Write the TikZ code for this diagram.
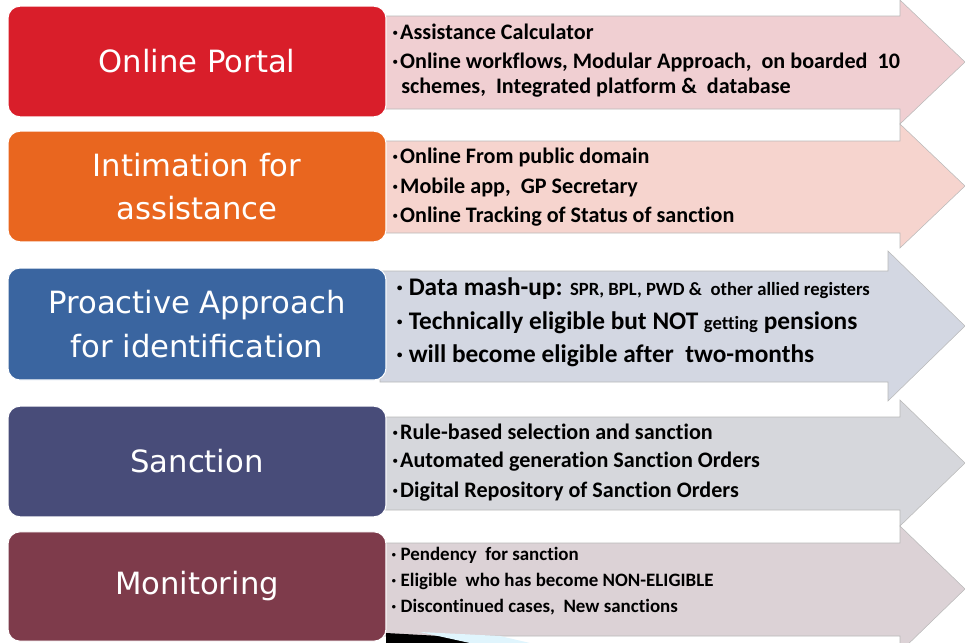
\documentclass[tikz,border=0pt]{standalone}
\usepackage{fontspec}
\setmainfont{Carlito}[Ligatures=NoCommon]
\newfontfamily\boxfont{DejaVu Sans}
\usepackage{tikz}
\usetikzlibrary{calc}

\definecolor{portalred}{HTML}{D91E2A}
\definecolor{intimorange}{HTML}{E9661F}
\definecolor{proactblue}{HTML}{3A65A0}
\definecolor{sanctblue}{HTML}{484C79}
\definecolor{monitmaroon}{HTML}{7E3B4B}
\definecolor{bandpink}{HTML}{F0CFD2}
\definecolor{bandsalmon}{HTML}{F6D4CE}
\definecolor{bandblue}{HTML}{D3D7E2}
\definecolor{bandgrey}{HTML}{D6D7DC}
\definecolor{bandmauve}{HTML}{DCD2D6}

\tikzset{
  stepbox/.style={rounded corners=9pt, draw=white, line width=0.8pt,
    minimum width=283.5pt, minimum height=83pt, align=center,
    text=white, font=\boxfont\fontsize{23}{32.5}\selectfont},
  band/.style={draw=gray!55, line width=0.4pt},
  item/.style={anchor=west, inner sep=0pt, font=\bfseries\fontsize{16.6}{18}\selectfont},
  bigitem/.style={anchor=west, inner sep=0pt, font=\bfseries\fontsize{19}{22}\selectfont},
  smallitem/.style={anchor=west, inner sep=0pt, font=\bfseries\fontsize{14.2}{16}\selectfont}
}

\begin{document}
\begin{tikzpicture}[x=0.75pt,y=-0.75pt]
    \useasboundingbox (0,0) rectangle (965,643);
    \foreach \t/\b/\ht/\hb/\hx/\ty/\c in
        {16/109/0/124/900/62/bandpink, 141/233/124/248/900/186/bandsalmon,
         271/382/251/401/888/326/bandblue, 417/510/400/526/900/463/bandgrey,
         543/636/526/652/900/589/bandmauve}
    \draw[band, fill=\c] (380,\t) -- (\hx,\t) -- (\hx,\ht) -- (965,\ty)
        -- (\hx,\hb) -- (\hx,\b) -- (380,\b) -- cycle;
    \fill[black] (386,643) -- (386,633) -- (440,636) -- (472,643) -- cycle;
    \fill[cyan!12] (420,632) -- (500,636) -- (530,643) -- (470,643) -- cycle;
    \foreach \n/\y/\h/\c/\t in
        {portal/61.5/83/portalred/Online Portal,
         intimation/186.5/83/intimorange/{Intimation for\\assistance},
         proactive/324/84/proactblue/{Proactive Approach\\for identification},
         sanction/461.5/83/sanctblue/Sanction,
         monitoring/586.5/82/monitmaroon/Monitoring}
    \node[stepbox, fill=\c, minimum height=\h pt] (\n) at (197,\y) {\t};
    \foreach \n/\y/\t in
        {1/32/Assistance Calculator,
         2/62/{Online workflows, Modular Approach,\ \ on boarded\ \ 10}}
    \node[item] (portalitem\n) at (392,\y) {·\hspace{1.5pt}\t};
    \node[item] (portalitem3) at (401,88) {schemes,\ \ Integrated platform \&\ \ database};
    \foreach \n/\y/\t in
        {1/157/Online From public domain,
         2/187/{Mobile app,\ \ GP Secretary},
         3/217/Online Tracking of Status of sanction}
    \node[item] (intimitem\n) at (392,\y) {·\hspace{1.5pt}\t};
    \node[bigitem] (proactitem1) at (396,289)
        {· Data mash-up: {\fontsize{14}{16}\selectfont SPR, BPL, PWD \&\ \ other allied registers}};
    \node[bigitem] (proactitem2) at (396,323)
        {· Technically eligible but NOT {\fontsize{14}{16}\selectfont getting} pensions};
    \node[bigitem] (proactitem3) at (396,356) {· will become eligible after\ \ two-months};
    \foreach \n/\y/\t in
        {1/432/Rule-based selection and sanction,
         2/462/Automated generation Sanction Orders,
         3/492/Digital Repository of Sanction Orders}
    \node[item] (sanctitem\n) at (392,\y) {·\hspace{1.5pt}\t};
    \foreach \n/\y/\t in
        {1/555/Pendency\ \ for sanction,
         2/581/Eligible\ \ who has become NON-ELIGIBLE,
         3/607/{Discontinued cases,\ \ New sanctions}}
    \node[smallitem] (monititem\n) at (391,\y) {· \t};
\end{tikzpicture}
\end{document}
